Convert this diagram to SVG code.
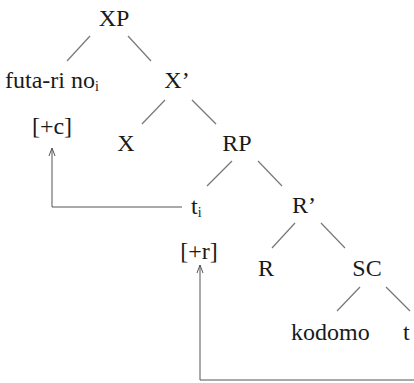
<svg xmlns="http://www.w3.org/2000/svg" width="414" height="383" viewBox="0 0 414 383">
<defs>
<style>
.tx{font-family:'Liberation Serif','DejaVu Serif','Times New Roman',serif;font-size:24px;fill:#1a1a1a}
.m{text-anchor:middle}
.sub{font-size:14px}
.e{stroke:#777;stroke-width:1.2;fill:none}
.a{stroke:#555;stroke-width:1;fill:none}
</style>
</defs>
<rect width="414" height="383" fill="#fff"/>
<g id="connectors">
<line class="e" x1="90" y1="36" x2="67" y2="61"/>
<line class="e" x1="128" y1="36" x2="151" y2="61"/>
<line class="e" x1="165" y1="100" x2="142" y2="124"/>
<line class="e" x1="192" y1="100" x2="216" y2="124"/>
<line class="e" x1="232" y1="161" x2="207" y2="186"/>
<line class="e" x1="258" y1="161" x2="282" y2="186"/>
<line class="e" x1="295" y1="223" x2="272" y2="248"/>
<line class="e" x1="321" y1="223" x2="345" y2="248"/>
<line class="e" x1="360" y1="287" x2="337" y2="311"/>
<line class="e" x1="386" y1="287" x2="410" y2="311"/>
<polyline class="a" points="182,207 52,207 52,148"/>
<polyline class="a" points="49,156 52,148 55,156"/>
<polyline class="a" points="414,380 200,380 200,265"/>
<polyline class="a" points="197,273 200,265 203,273"/>
</g>
<g class="tx">
<g id="XP"><text class="m" x="114" y="26">XP</text></g>
<g id="futari"><text x="5" y="88">futa-ri no<tspan class="sub" dy="3">i</tspan></text></g>
<g id="Xbar"><text class="m" x="177" y="88">X’</text></g>
<g id="plusc"><text class="m" x="52" y="134">[+c]</text></g>
<g id="X"><text class="m" x="126" y="151">X</text></g>
<g id="RP"><text class="m" x="237" y="151">RP</text></g>
<g id="ti"><text x="191" y="214">t<tspan class="sub" dy="3">i</tspan></text></g>
<g id="Rbar"><text class="m" x="304" y="213">R’</text></g>
<g id="plusr"><text class="m" x="199" y="259">[+r]</text></g>
<g id="R"><text class="m" x="266" y="276">R</text></g>
<g id="SC"><text class="m" x="367" y="276">SC</text></g>
<g id="kodomo"><text x="291" y="340">kodomo</text></g>
<g id="t"><text x="403" y="340">t</text></g>
</g>
</svg>
